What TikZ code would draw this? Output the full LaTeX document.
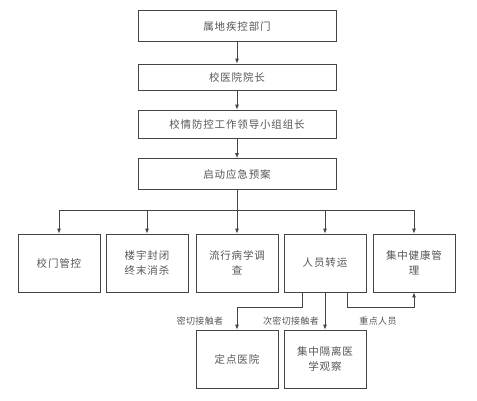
\documentclass[tikz,border=0pt]{standalone}
\usepackage{fontspec}
\newfontfamily\cjk[LetterSpace=8]{Noto Sans CJK SC}
\newfontfamily\cjklab[LetterSpace=4]{Noto Sans CJK SC}
\usetikzlibrary{arrows.meta,calc}
\definecolor{txt}{HTML}{555555}
\definecolor{ln}{HTML}{444444}
\begin{document}
\begin{tikzpicture}[x=1pt,y=-1pt,
  topbox/.style={draw=ln,line width=0.8pt,minimum width=198pt,inner sep=0pt,text=txt,font=\cjk\fontsize{10.5}{13}\selectfont},
  rowbox/.style={draw=ln,line width=0.8pt,minimum width=82pt,minimum height=58pt,inner sep=0pt,align=center,text=txt,font=\cjk\fontsize{10.5}{15}\selectfont},
  arr/.style={draw=ln,line width=0.8pt,-{Latex[length=5pt,width=4pt]}},
  ln/.style={draw=ln,line width=0.8pt},
  lab/.style={text=txt,font=\cjklab\fontsize{9}{11}\selectfont,inner sep=1pt}]
\useasboundingbox (0,0) rectangle (477,400);
\node[topbox,minimum height=31pt] (t1) at (237,26) {属地疾控部门};
\node[topbox,minimum height=26pt] (t2) at (237,77) {校医院院长};
\node[topbox,minimum height=28pt] (t3) at (237,124) {校情防控工作领导小组组长};
\node[topbox,minimum height=31pt] (t4) at (237,174) {启动应急预案};
\draw[arr] (t1) -- (t2);
\draw[arr] (t2) -- (t3);
\draw[arr] (t3) -- (t4);
\node[rowbox] (a) at (59,263) {校门管控};
\node[rowbox] (b) at (147,263) {楼宇封闭\\终末消杀};
\node[rowbox] (c) at (237,263) {流行病学调\\查};
\node[rowbox] (d) at (325,263) {人员转运};
\node[rowbox] (e) at (414,263) {集中健康管\\理};
\node[rowbox] (f) at (237,359) {定点医院};
\node[rowbox] (g) at (325,359) {集中隔离医\\学观察};
\coordinate (hl) at (59,210);
\coordinate (hr) at (414,210);
\draw[arr] (t4) -- (c);
\draw[ln] (hl) -- (hr);
\draw[arr] (hl) -- (a);
\draw[arr] (hl -| b.north) -- (b);
\draw[arr] (hl -| d.north) -- (d);
\draw[arr] (hr) -- (e);
\draw[arr] ([xshift=-23pt]d.south) -- ++(0,15) -| (f.north);
\draw[arr] (d.south) -- (g.north);
\draw[arr] ([xshift=22pt]d.south) -- ++(0,15) -| (e.south);
\node[lab] (l1) at (200,321) {密切接触者};
\node[lab] (l2) at (291,321) {次密切接触者};
\node[lab] (l3) at (378,321) {重点人员};
\end{tikzpicture}
\end{document}
